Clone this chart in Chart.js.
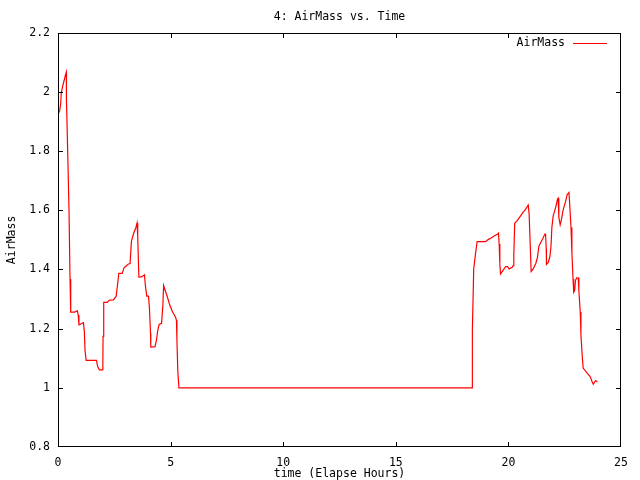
<!DOCTYPE html>
<html>
<head>
<meta charset="utf-8">
<script src="https://cdn.jsdelivr.net/npm/chart.js@4/dist/chart.umd.min.js"></script>
<style>
  html, body { margin: 0; padding: 0; background: #fff; }
  canvas { display: block; }
</style>
</head>
<body>
<canvas id="chart" width="640" height="480"></canvas>
<script>
const times = [
  0, 0.074, 0.119, 0.148, 0.208, 0.267, 0.326, 0.371, 0.375, 0.43, 0.49, 0.534, 0.564,
  0.74, 0.86, 0.9, 0.93, 1.01, 1.13, 1.17, 1.2, 1.25, 1.71, 1.76, 1.84, 1.99, 2.0, 2.03,
  2.19, 2.27, 2.46, 2.58, 2.64, 2.7, 2.85, 2.94, 3.01, 3.11, 3.2, 3.26, 3.35, 3.46, 3.51,
  3.54, 3.59, 3.71, 3.84, 3.88, 3.94, 4.02, 4.06, 4.11, 4.12, 4.31, 4.37, 4.43, 4.49, 4.6,
  4.66, 4.69, 4.76, 4.86, 4.97, 5.09, 5.22, 5.26, 5.28, 5.32, 5.37,
  18.39, 18.4, 18.46, 18.52, 18.58, 18.61, 18.99, 19.1, 19.25, 19.38, 19.53, 19.56, 19.59,
  19.62, 19.65, 19.77, 19.88, 19.96, 20.03, 20.17, 20.21, 20.24, 20.28, 20.39, 20.51, 20.65,
  20.77, 20.88, 20.92, 20.97, 21.01, 21.1, 21.22, 21.29, 21.35, 21.4, 21.52, 21.62, 21.65,
  21.68, 21.69, 21.77, 21.84, 21.89, 21.93, 21.99, 22.06, 22.14, 22.18, 22.21, 22.24, 22.3,
  22.36, 22.43, 22.54, 22.61, 22.69, 22.72, 22.78, 22.82, 22.87, 22.9, 22.94, 22.98, 23.03,
  23.1, 23.13, 23.19, 23.22, 23.28, 23.32, 23.4, 23.5, 23.62, 23.67, 23.72, 23.77, 23.81,
  23.87, 23.95
];

const airMass = [
  1.925, 1.936, 1.961, 1.998, 2.02, 2.037, 2.056, 2.067, 1.975, 1.8, 1.595, 1.368, 1.256,
  1.256, 1.26, 1.245, 1.213, 1.216, 1.22, 1.19, 1.126, 1.093, 1.093, 1.072, 1.061, 1.061, 1.174, 1.289,
  1.289, 1.296, 1.297, 1.309, 1.346, 1.387, 1.387, 1.407, 1.41, 1.418, 1.42, 1.495, 1.52, 1.542, 1.557,
  1.512, 1.374, 1.375, 1.382, 1.346, 1.31, 1.31, 1.269, 1.183, 1.138, 1.139, 1.16, 1.194, 1.214, 1.218,
  1.284, 1.346, 1.329, 1.306, 1.278, 1.256, 1.239, 1.228, 1.164, 1.057, 1.0,
  1.0, 1.196, 1.402, 1.441, 1.477, 1.494, 1.494, 1.501, 1.507, 1.514, 1.52, 1.523, 1.486,
  1.419, 1.385, 1.398, 1.41, 1.41, 1.402, 1.407, 1.413, 1.447, 1.556, 1.565, 1.578, 1.593,
  1.604, 1.618, 1.588, 1.481, 1.393, 1.402, 1.421, 1.441, 1.477, 1.486, 1.503, 1.52, 1.52,
  1.47, 1.417, 1.424, 1.443, 1.477, 1.542, 1.582, 1.599, 1.623, 1.638, 1.641, 1.576, 1.551,
  1.571, 1.601, 1.63, 1.653, 1.66, 1.623, 1.542, 1.455, 1.368, 1.323, 1.328, 1.363, 1.372,
  1.372, 1.328, 1.256, 1.18, 1.106, 1.067, 1.059, 1.05, 1.039, 1.031, 1.02, 1.012, 1.017,
  1.024, 1.021
];

const xTicks = [0, 5, 10, 15, 20, 25];
const yTicks = [0.8, 1, 1.2, 1.4, 1.6, 1.8, 2, 2.2];

const FONT = { family: "'DejaVu Sans Mono', monospace", size: 11.5 };
Chart.defaults.color = "#000";
Chart.defaults.font = FONT;

// gnuplot style frame with inward ticks on all four sides, plus the key
const framePlugin = {
  id: "frame",
  afterDraw(chart) {
    const { ctx, chartArea: a } = chart;
    const xs = chart.scales.x, ys = chart.scales.y;
    const len = 5;
    const L = Math.round(a.left), R = Math.round(a.right) - 1;
    const T = Math.round(a.top), B = Math.round(a.bottom) - 1;
    ctx.save();
    ctx.fillStyle = "#000";
    ctx.fillRect(L, T, R - L + 1, 1);
    ctx.fillRect(L, B, R - L + 1, 1);
    ctx.fillRect(L, T, 1, B - T + 1);
    ctx.fillRect(R, T, 1, B - T + 1);
    xTicks.forEach((t) => {
      const px = Math.min(R, Math.round(xs.getPixelForValue(t)));
      ctx.fillRect(px, B - len + 1, 1, len);
      ctx.fillRect(px, T, 1, len);
    });
    yTicks.forEach((v) => {
      const py = Math.min(B, Math.round(ys.getPixelForValue(v)));
      ctx.fillRect(L, py, len, 1);
      ctx.fillRect(R - len + 1, py, len, 1);
    });

    const ds = chart.data.datasets[0];
    const ky = T + 10;
    ctx.font = `${FONT.size}px ${FONT.family}`;
    ctx.textAlign = "right";
    ctx.textBaseline = "middle";
    ctx.fillText(ds.label, R - 55, ky);
    ctx.fillStyle = ds.borderColor;
    ctx.fillRect(R - 47, ky, 34, 1);
    ctx.restore();
  },
};

new Chart(document.getElementById("chart"), {
  type: "line",
  data: {
    datasets: [
      {
        label: "AirMass",
        data: times.map((t, i) => ({ x: t, y: airMass[i] })),
        borderColor: "#ff0000",
        borderWidth: 1.2,
        pointRadius: 0,
        tension: 0,
        fill: false,
      },
    ],
  },
  options: {
    responsive: false,
    animation: false,
    layout: { padding: { left: 0, right: 19, top: 0, bottom: 0 } },
    plugins: {
      legend: { display: false },
      tooltip: { enabled: false },
      title: {
        display: true,
        fullSize: false,
        text: "4: AirMass vs. Time",
        font: { ...FONT, weight: "normal" },
        color: "#000",
        padding: { top: 10, bottom: 9 },
      },
    },
    scales: {
      x: {
        type: "linear",
        min: 0,
        max: 25,
        afterBuildTicks: (scale) => { scale.ticks = xTicks.map((v) => ({ value: v })); },
        afterFit: (scale) => { scale.height = 33; },
        grid: { display: false, drawTicks: false },
        border: { display: false },
        ticks: { padding: 9, maxRotation: 0 },
        title: {
          display: true,
          text: "time (Elapse Hours)",
          padding: { top: 0, bottom: -1 },
        },
      },
      y: {
        type: "linear",
        min: 0.8,
        max: 2.2,
        afterBuildTicks: (scale) => { scale.ticks = yTicks.map((v) => ({ value: v })); },
        afterFit: (scale) => { scale.width = 58; },
        grid: { display: false, drawTicks: false },
        border: { display: false },
        ticks: { padding: 8, callback: (v) => String(+v.toFixed(1)) },
        title: {
          display: true,
          text: "AirMass",
          padding: { top: 5, bottom: 0 },
        },
      },
    },
  },
  plugins: [framePlugin],
});
</script>
</body>
</html>
